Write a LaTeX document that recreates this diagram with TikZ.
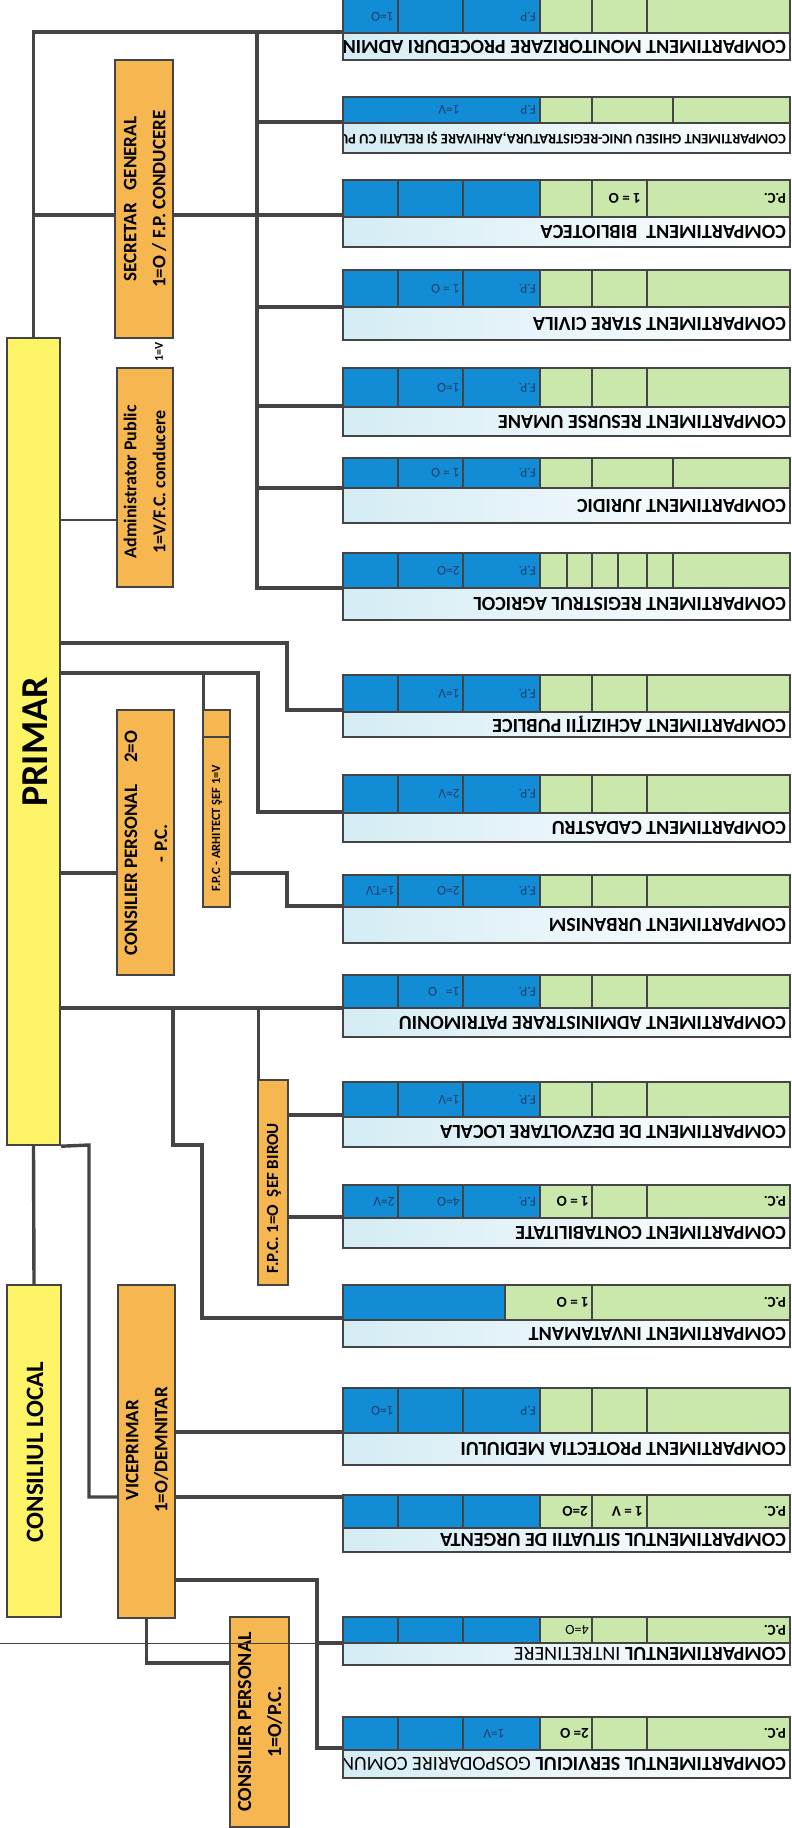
\documentclass[tikz,border=0pt]{standalone}
\usepackage{fontspec}
\setmainfont{Carlito}
\definecolor{bluec}{RGB}{18,140,212}
\definecolor{greenc}{RGB}{202,232,172}
\definecolor{titlec}{RGB}{212,236,244}
\definecolor{orc}{RGB}{246,182,80}
\definecolor{yelc}{RGB}{254,244,104}
\definecolor{linec}{RGB}{68,68,68}
\definecolor{btc}{RGB}{30,62,112}
\newcommand\crow[4]{%
  \fill[bluec] (343,#1) rectangle (#4,#2);
  \fill[greenc] (#4,#1) rectangle (790,#2);
  \shade[left color=titlec,right color=white] (343,#2) rectangle (790,#3);
  \draw[bx] (343,#1) rectangle (790,#3);
  \draw[bx] (343,#2) -- (790,#2);
  \draw[bx] (#4,#1) -- (#4,#2);
}
\newcommand\cdiv[3]{\foreach \xx in {#3} {\draw[bx] (\xx,#1) -- (\xx,#2);}}
\newcommand\ctitle[5]{%
  \begin{scope}
    \clip (344.5,#1) rectangle (788.5,#2);
    \node[tt,#4] (#3) at (786,{(#1+#2)/2}) {#5};
  \end{scope}}
\begin{document}
\begin{tikzpicture}[x=1pt,y=-1pt,
  conn/.style={draw=linec,line width=3.4pt},
  thinconn/.style={draw=linec,line width=1.8pt},
  bx/.style={draw=linec,line width=2.4pt},
  ybox/.style={draw=linec,line width=2.4pt,fill=yelc,inner sep=0pt},
  obox/.style={draw=linec,line width=2.4pt,fill=orc,inner sep=0pt},
  lbl/.style={rotate=90,align=center,inner sep=0pt,text=black},
  tt/.style={rotate=180,anchor=west,inner sep=0pt,font=\bfseries\fontsize{20}{20}\selectfont},
  bt/.style={rotate=180,anchor=west,inner sep=0pt,text=btc,font=\fontsize{13.5}{13.5}\selectfont},
  gt/.style={rotate=180,anchor=west,inner sep=0pt,font=\bfseries\fontsize{15}{15}\selectfont},
  pc/.style={rotate=180,anchor=west,inner sep=0pt,font=\bfseries\fontsize{15}{15}\selectfont},
]
\clip (0,0) rectangle (792,1828);
\fill[white] (0,0) rectangle (792,1828);

% ---------- boxes (positions) ----------
\node[ybox,minimum width=53pt,minimum height=807pt] (primar) at (33.5,741.5) {};
\node[ybox,minimum width=54pt,minimum height=332pt] (cl) at (34,1451) {};
\node[obox,minimum width=58pt,minimum height=278pt] (sg) at (144,199) {};
\node[obox,minimum width=56pt,minimum height=219pt] (ap) at (145,477.5) {};
\node[obox,minimum width=57pt,minimum height=265pt] (cp1) at (145.5,842.5) {};
\node[obox,minimum width=27pt,minimum height=197pt] (arh) at (216.5,808.5) {};
\node[obox,minimum width=30pt,minimum height=205pt] (sb) at (273,1182.5) {};
\node[obox,minimum width=57pt,minimum height=333pt] (vp) at (146.5,1451.5) {};
\node[obox,minimum width=59pt,minimum height=210pt] (cp2) at (259.5,1722) {};

% ---------- row anchor coordinates ----------
\coordinate (r1) at (343,32);
\coordinate (r2) at (343,122);
\coordinate (r3) at (343,215);
\coordinate (r4) at (343,307);
\coordinate (r5) at (343,406);
\coordinate (r6) at (343,488);
\coordinate (r7) at (343,588);
\coordinate (r8) at (343,710);
\coordinate (r9) at (343,812);
\coordinate (r10) at (343,906);
\coordinate (r11) at (343,1008);
\coordinate (r12) at (343,1115);
\coordinate (r13) at (343,1217);
\coordinate (r14) at (343,1318);
\coordinate (r15) at (343,1432);
\coordinate (r16) at (343,1497);
\coordinate (r17) at (343,1643);
\coordinate (r18) at (343,1748);
\coordinate (bus) at (257,32);
\coordinate (edgeL) at (0,1643);

% ---------- connectors ----------
\draw[conn] (primar.north) |- (r1);
\draw[conn] (bus) |- (r7);
\foreach \i in {2,...,6} {\draw[conn] (bus |- r\i) -- (r\i);}
\draw[conn] (primar.north |- r3) -- (r3);
\draw[thinconn] (primar.east |- 0,520) -- (ap.west |- 0,520);
\draw[conn] (primar.east |- 0,643) -- (287,643) |- (r8);
\draw[conn] (primar.east |- 0,673) -- (258,673) |- (r9);
\draw[conn] ([xshift=1.5pt]arh.north west |- 0,673) -- ([xshift=1.5pt]arh.north west);
\draw[conn] (arh.east |- 0,873) -- (287,873) |- (r10);
\draw[conn] (primar.east |- 0,873) -- (cp1.west |- 0,873);
\draw[conn] (primar.east |- r11) -- (r11);
\draw[conn] (173,1008) -- (173,1145) -- (202,1145) |- (r14);
\draw[conn] ([xshift=1.5pt]sb.north west |- r11) -- ([xshift=1.5pt]sb.north west);
\draw[conn] (sb.east |- r12) -- (r12);
\draw[conn] (sb.east |- r13) -- (r13);
\draw[conn] (primar.south east) -- (89,1145) |- (vp.west |- r16);
\draw[conn] (primar.south) -- (cl.north);
\draw[conn] (vp.east |- r15) -- (r15);
\draw[conn] (vp.east |- r16) -- (r16);
\draw[conn] (vp.east |- 0,1580) -- (317,1580) |- (r18);
\draw[conn] (317,1643) -- (r17);
\draw[conn] (vp.south) |- (cp2.west |- 0,1663);

% ---------- compartment rows ----------
% 1
\crow{-6}{33}{60}{540}
\cdiv{-6}{33}{398,463,592,647}
\ctitle{33}{60}{t1}{}{COMPARTIMENT MONITORIZARE PROCEDURI ADMINISTRATIVE}
\node[bt] (c1a) at (536,17) {F.P};
\node[bt] (c1b) at (394,17) {1=O};
% 2
\crow{97}{123}{153}{540}
\cdiv{97}{123}{592,673}
\ctitle{123}{153}{t2}{font=\bfseries\fontsize{14.5}{14.5}\selectfont}{COMPARTIMENT GHISEU UNIC-REGISTRATURA,ARHIVARE ŞI RELATII CU PUBLICUL}
\node[bt] (c2a) at (536,110) {F.P};
\node[bt] (c2b) at (460,110) {1=V};
% 3
\crow{180}{217}{247}{540}
\cdiv{180}{217}{398,463,592,647}
\ctitle{217}{247}{t3}{}{COMPARTIMENT\ \ BIBLIOTECA}
\node[gt] (c3a) at (641,198.5) {1 = O};
\node[pc] (c3b) at (786,198.5) {P.C.};
% 4
\crow{270}{307}{340}{540}
\cdiv{270}{307}{398,463,592,647}
\ctitle{307}{340}{t4}{}{COMPARTIMENT STARE CIVILA}
\node[bt] (c4a) at (536,288.5) {F.P.};
\node[bt] (c4b) at (460,288.5) {1 = O};
% 5
\crow{368}{407}{436}{540}
\cdiv{368}{407}{398,463,592,647}
\ctitle{407}{436}{t5}{}{COMPARTIMENT RESURSE UMANE}
\node[bt] (c5a) at (536,387.5) {F.P.};
\node[bt] (c5b) at (460,387.5) {1=O};
% 6
\crow{458}{488}{523}{540}
\cdiv{458}{488}{398,463,592,673}
\ctitle{488}{523}{t6}{}{COMPARTIMENT JURIDIC}
\node[bt] (c6a) at (536,473) {F.P.};
\node[bt] (c6b) at (460,473) {1 = O};
% 7
\crow{553}{588}{620}{540}
\cdiv{553}{588}{398,463,567,592,618,647,673}
\ctitle{588}{620}{t7}{}{COMPARTIMENT REGISTRUL AGRICOL}
\node[bt] (c7a) at (536,570.5) {F.P.};
\node[bt] (c7b) at (460,570.5) {2=O};
% 8
\crow{675}{712}{737}{540}
\cdiv{675}{712}{398,463,592,647}
\ctitle{712}{737}{t8}{}{COMPARTIMENT ACHIZIŢII PUBLICE}
\node[bt] (c8a) at (536,693.5) {F.P.};
\node[bt] (c8b) at (460,693.5) {1=V};
% 9
\crow{775}{813}{842}{540}
\cdiv{775}{813}{398,463,592,647}
\ctitle{813}{842}{t9}{}{COMPARTIMENT CADASTRU}
\node[bt] (c9a) at (536,794) {F.P.};
\node[bt] (c9b) at (460,794) {2=V};
% 10
\crow{875}{907}{943}{540}
\cdiv{875}{907}{398,463,592,647}
\ctitle{907}{943}{t10}{}{COMPARTIMENT URBANISM}
\node[bt] (c10a) at (536,891) {F.P.};
\node[bt] (c10b) at (460,891) {2=O};
\node[bt] (c10c) at (395,891) {1=T.V};
% 11
\crow{975}{1008}{1037}{540}
\cdiv{975}{1008}{398,463,592,647}
\ctitle{1008}{1037}{t11}{}{COMPARTIMENT ADMINISTRARE PATRIMONIU}
\node[bt] (c11a) at (536,991.5) {F.P.};
\node[bt] (c11b) at (460,991.5) {1=\ \ \ O};
% 12
\crow{1082}{1117}{1147}{540}
\cdiv{1082}{1117}{398,463,592,647}
\ctitle{1117}{1147}{t12}{}{COMPARTIMENT DE DEZVOLTARE LOCALA}
\node[bt] (c12a) at (536,1099.5) {F.P.};
\node[bt] (c12b) at (460,1099.5) {1=V};
% 13
\crow{1185}{1218}{1248}{540}
\cdiv{1185}{1218}{398,463,592,647}
\ctitle{1218}{1248}{t13}{}{COMPARTIMENT CONTABILITATE}
\node[bt] (c13a) at (536,1201.5) {F.P.};
\node[bt] (c13b) at (460,1201.5) {4=O};
\node[bt] (c13c) at (395,1201.5) {2=V};
\node[gt] (c13d) at (589,1201.5) {1 = O};
\node[pc] (c13e) at (786,1201.5) {P.C.};
% 14
\crow{1285}{1320}{1347}{505}
\cdiv{1285}{1320}{592}
\ctitle{1320}{1347}{t14}{}{COMPARTIMENT INVATAMANT}
\node[gt] (c14a) at (589,1302.5) {1 = O};
\node[pc] (c14b) at (786,1302.5) {P.C.};
% 15
\crow{1388}{1433}{1465}{540}
\cdiv{1388}{1433}{398,463,592,647}
\ctitle{1433}{1465}{t15}{}{COMPARTIMENT PROTECTIA MEDIULUI}
\node[bt] (c15a) at (536,1410.5) {F.P};
\node[bt] (c15b) at (394,1410.5) {1=O};
% 16
\crow{1495}{1528}{1552}{540}
\cdiv{1495}{1528}{398,463,592,647}
\ctitle{1528}{1552}{t16}{}{COMPARTIMENTUL SITUATII DE URGENTA}
\node[gt] (c16a) at (588,1511.5) {2=O};
\node[gt] (c16b) at (643,1511.5) {1 = V};
\node[pc] (c16c) at (786,1511.5) {P.C.};
% 17
\crow{1617}{1643}{1665}{540}
\cdiv{1617}{1643}{398,463,592,647}
\ctitle{1643}{1665}{t17}{}{COMPARTIMENTUL {\mdseries INTRETINERE}}
\node[gt,font=\fontsize{14}{14}\selectfont] (c17a) at (589,1630) {4=O};
\node[pc] (c17b) at (786,1630) {P.C.};
% 18
\crow{1717}{1750}{1778}{540}
\cdiv{1717}{1750}{398,463,592,647}
\ctitle{1750}{1778}{t18}{}{COMPARTIMENTUL SERVICIUL {\mdseries GOSPODARIRE COMUNALA}}
\node[bt] (c18a) at (505,1733.5) {1=V};
\node[gt] (c18b) at (589,1733.5) {2= O};
\node[pc] (c18c) at (786,1733.5) {P.C.};

% ---------- redraw boxes on top of connectors ----------
\node[ybox,minimum width=53pt,minimum height=807pt] at (primar) {};
\node[ybox,minimum width=54pt,minimum height=332pt] at (cl) {};
\node[obox,minimum width=58pt,minimum height=278pt] at (sg) {};
\node[obox,minimum width=56pt,minimum height=219pt] at (ap) {};
\node[obox,minimum width=57pt,minimum height=265pt] at (cp1) {};
\node[obox,minimum width=27pt,minimum height=197pt] at (arh) {};
\draw[bx] (arh.north west |- 0,737) -- (arh.north east |- 0,737);
\node[obox,minimum width=30pt,minimum height=205pt] at (sb) {};
\node[obox,minimum width=57pt,minimum height=333pt] at (vp) {};
\node[obox,minimum width=59pt,minimum height=210pt] at (cp2) {};

% ---------- labels ----------
\node[lbl,font=\bfseries\fontsize{38}{38}\selectfont] (lprimar) at (35,742) {PRIMAR};
\node[lbl,font=\bfseries\fontsize{25}{25}\selectfont] (lcl) at (35,1452) {CONSILIUL LOCAL};
\node[lbl,font=\bfseries\fontsize{19}{29}\selectfont] (lsg) at (145,199) {SECRETAR\ \ \ GENERAL\\1=O / F.P. CONDUCERE};
\node[lbl,font=\bfseries\fontsize{12}{12}\selectfont] (lsmall) at (159,352) {1=V};
\node[lbl,font=\bfseries\fontsize{18}{29}\selectfont] (lap) at (145,482) {Administrator Public\\1=V/F.C. conducere};
\node[lbl,font=\bfseries\fontsize{19}{30}\selectfont] (lcp1) at (146,843) {CONSILIER PERSONAL\hspace{22pt}2=O\\- P.C.};
\node[lbl,font=\bfseries\fontsize{12.5}{12.5}\selectfont] (larh) at (217,828) {F.P.C - ARHITECT ŞEF 1=V};
\node[lbl,font=\bfseries\fontsize{17}{17}\selectfont] (lsb) at (274,1198) {F.P.C. 1=O\ \ ŞEF BIROU};
\node[lbl,font=\bfseries\fontsize{19}{29}\selectfont] (lvp) at (147,1450) {VICEPRIMAR\\1=O/DEMNITAR};
\node[lbl,font=\bfseries\fontsize{20}{30}\selectfont] (lcp2) at (260,1722) {CONSILIER PERSONAL\\1=O/P.C.};

% thin line across the lower part
\draw[draw=linec,line width=1pt] (edgeL) -- (r17);
\end{tikzpicture}
\end{document}
